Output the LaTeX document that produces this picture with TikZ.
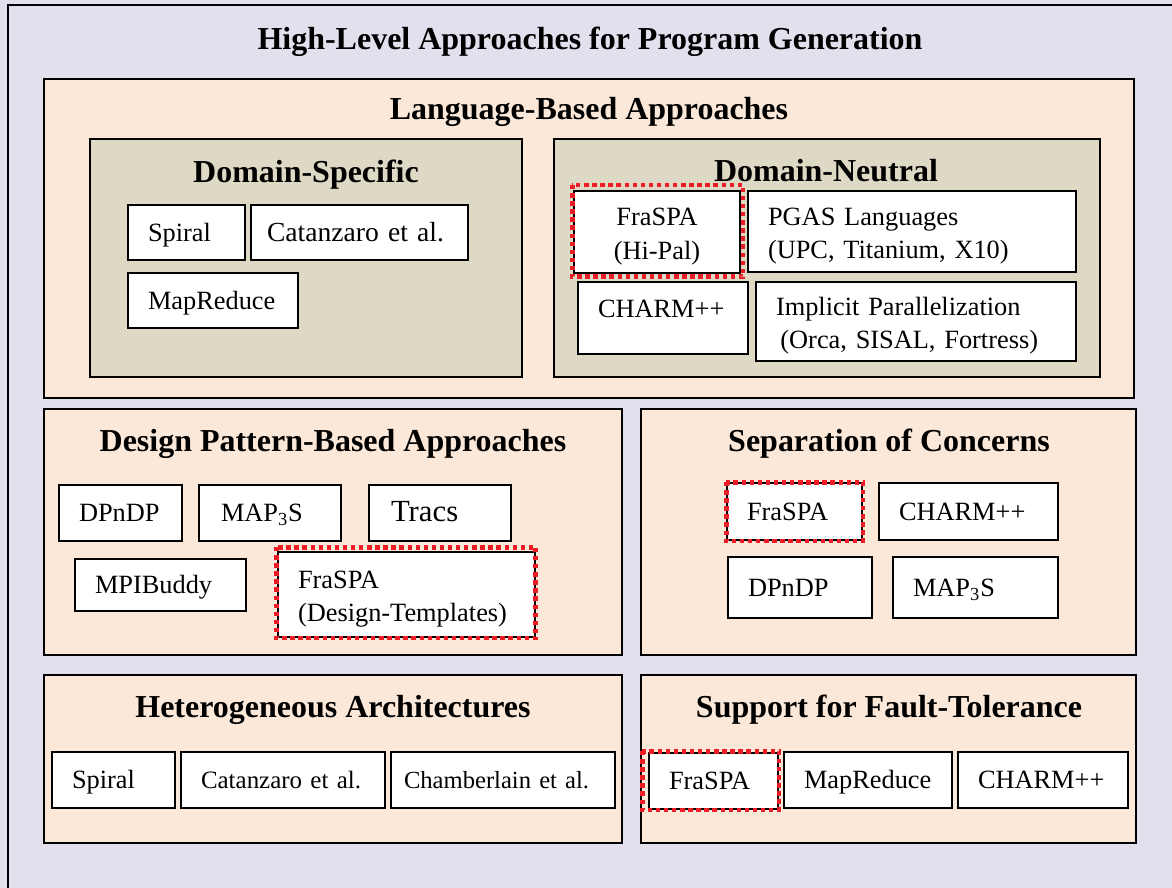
\documentclass[tikz,border=0pt]{standalone}
\usepackage{fontspec}
\setmainfont{Liberation Serif}
\usepackage{tikz}

\definecolor{lavender}{HTML}{E4DFEC}
\definecolor{peach}{HTML}{FCE8D8}
\definecolor{khaki}{HTML}{DDD9C4}
\definecolor{dotred}{HTML}{EE1C25}

\begin{document}
\begin{tikzpicture}[x=0.02cm, y=-0.02cm,
    section/.style={draw=black, line width=1.1pt, fill=peach, inner sep=0pt},
    subsection/.style={section, fill=khaki},
    sectitle/.style={font=\fontsize{18.2}{22}\selectfont\bfseries,
      text height=14.5pt, text depth=1.7pt},
    box/.style={draw=black, line width=1.1pt, fill=white, inner xsep=0.4cm,
      inner ysep=0pt, font=\fontsize{15}{19}\selectfont, align=left},
    item/.style={box, text height=11.5pt, text depth=1.5pt},
    twoline/.style={box, text height=14pt, text depth=21pt},
    reddots/.style={draw=dotred, line width=2.8pt, dash pattern=on 2.5pt off 2.1pt}]

  \useasboundingbox (0,0) rectangle (1172,888);
  \fill[lavender] (0,0) rectangle (1172,888);
  \draw[line width=1.3pt] (8,1000) -- (8,5) -- (1300,5);

  \node[sectitle] (title) at (590,38) {High-Level Approaches for Program Generation};

  % language-based
  \node[section, minimum width=21.8cm, minimum height=6.38cm] (lang) at (589,238.5) {};
  \node[sectitle] (langT) at (589,108) {Language-Based Approaches};

  \node[subsection, minimum width=8.64cm, minimum height=4.76cm] (dspec) at (306,258) {};
  \node[sectitle] (dspecT) at (306,171) {Domain-Specific};
  \node[item, minimum height=1.1cm, text width=1.54cm] (spiralA) at (186.5,232.5) {Spiral};
  \node[item, minimum height=1.1cm, inner xsep=0.32cm, text width=3.7cm, font=\fontsize{15.7}{19}\selectfont] (catanA) at (359.5,232.5) {Catanzaro et al.};
  \node[item, minimum height=1.1cm, text width=2.6cm] (mapredA) at (213,300.5) {MapReduce};

  \node[subsection, minimum width=10.92cm, minimum height=4.76cm] (dneut) at (827,258) {};
  \node[sectitle] (dneutT) at (826,170) {Domain-Neutral};
  \node[twoline, align=center, minimum height=1.64cm, text width=2.52cm] (hipal) at (657,232) {FraSPA\\(Hi-Pal)};
  \node[twoline, minimum height=1.62cm, text width=5.76cm] (pgas) at (912,231.5) {PGAS Languages\\(UPC, Titanium, X10)};
  \node[item, minimum height=1.44cm, text width=2.6cm, text depth=0.42cm] (charmA) at (663,318) {CHARM++};
  \node[twoline, minimum height=1.58cm, text width=5.6cm] (implicit) at (916,321.5) {Implicit Parallelization\\ \,(Orca, SISAL, Fortress)};

  % design patterns
  \node[section, minimum width=11.56cm, minimum height=4.92cm] (dpat) at (333,532) {};
  \node[sectitle] (dpatT) at (333,440) {Design Pattern-Based Approaches};
  \node[item, minimum height=1.12cm, text width=1.66cm] (dpndpA) at (120.5,513) {DPnDP};
  \node[item, minimum height=1.12cm, inner xsep=0.44cm, text width=1.96cm] (map3sA) at (270,513) {MAP\textsubscript{3}S};
  \node[item, minimum height=1.12cm, inner xsep=0.44cm, text width=1.96cm, font=\fontsize{17.5}{20}\selectfont] (tracs) at (440,513) {Tracs};
  \node[item, minimum height=1.04cm, text width=2.62cm] (mpibuddy) at (160.5,585) {MPIBuddy};
  \node[twoline, minimum height=1.7cm, text width=4.34cm] (designT) at (406.5,594.5) {FraSPA\\(Design-Templates)};

  % separation of concerns
  \node[section, minimum width=9.9cm, minimum height=4.92cm] (soc) at (888.5,532) {};
  \node[sectitle] (socT) at (889,440) {Separation of Concerns};
  \node[item, minimum height=1.14cm, text width=1.9cm] (fraspaB) at (794.5,511.5) {FraSPA};
  \node[item, minimum height=1.14cm, text width=2.78cm] (charmB) at (968.5,511.5) {CHARM++};
  \node[item, minimum height=1.22cm, text width=2.08cm] (dpndpB) at (800,587.5) {DPnDP};
  \node[item, minimum height=1.22cm, text width=2.5cm] (map3sB) at (975.5,587.5) {MAP\textsubscript{3}S};

  % heterogeneous
  \node[section, minimum width=11.56cm, minimum height=3.36cm] (hetero) at (333,759) {};
  \node[sectitle] (heteroT) at (333,706) {Heterogeneous Architectures};
  \node[item, minimum height=1.12cm, text width=1.66cm] (spiralB) at (113.5,780) {Spiral};
  \node[item, minimum height=1.12cm, text width=3.28cm, font=\fontsize{14.2}{17}\selectfont] (catanB) at (283,780) {Catanzaro et al.};
  \node[item, minimum height=1.12cm, inner xsep=0.26cm, text width=3.96cm, font=\fontsize{14}{17}\selectfont] (chamb) at (503,780) {Chamberlain et al.};

  % fault tolerance
  \node[section, minimum width=9.9cm, minimum height=3.36cm] (fault) at (888.5,759) {};
  \node[sectitle] (faultT) at (889,706) {Support for Fault-Tolerance};
  \node[item, minimum height=1.12cm, text width=1.78cm] (fraspaC) at (713.5,781) {FraSPA};
  \node[item, minimum height=1.12cm, text width=2.56cm] (mapredB) at (868,780) {MapReduce};
  \node[item, minimum height=1.12cm, text width=2.6cm] (charmC) at (1043,780) {CHARM++};

  % FraSPA highlights
  \draw[reddots] ([shift={(-1,-5)}]hipal.north west) rectangle ([shift={(2,3)}]hipal.south east);
  \draw[reddots] ([shift={(-1,-4)}]designT.north west) rectangle (designT.south east);
  \draw[reddots] (fraspaB.north west) rectangle (fraspaB.south east);
  \draw[reddots] ([shift={(-6,-1)}]fraspaC.north west) rectangle (fraspaC.south east);
\end{tikzpicture}
\end{document}
